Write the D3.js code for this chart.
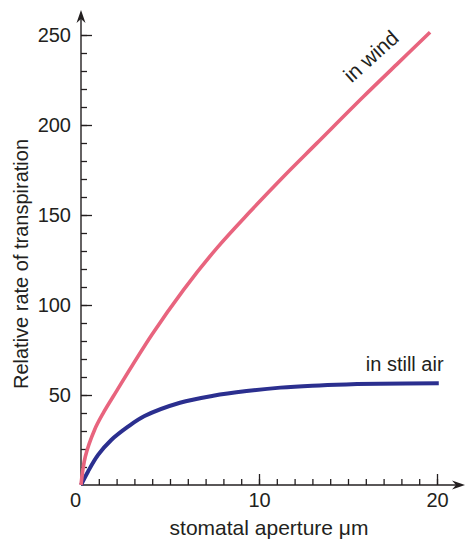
<!DOCTYPE html>
<html>
<head>
<meta charset="utf-8">
<script src="https://cdn.jsdelivr.net/npm/d3@7"></script>
<style>
  body { margin: 0; background: #fff; }
  svg { display: block; font-family: "Liberation Sans", Arial, Helvetica, sans-serif; }
  .tick text { font-size: 20px; fill: #231f20; }
  .tick line { stroke: #231f20; stroke-width: 1.3px; }
  .label { font-size: 20px; fill: #231f20; }
</style>
</head>
<body>
<svg width="466" height="540"></svg>
<script>
// stomatal aperture (um) vs relative rate of transpiration
const windAperture = [0, 0.24, 0.76, 1.24, 1.80, 3.97, 5.75, 7.62, 9.49, 11.37, 13.24, 15.86, 17.74, 19.61];
const windRate     = [0, 15.7, 30.6, 39.8, 49, 83.3, 108.3, 131.5, 151.8, 171.3, 189.8, 215.7, 233.7, 251.5];
const stillAperture = [0, 0.39, 0.96, 1.70, 2.64, 3.57, 5.56, 7.43, 9.3, 11.2, 13.0, 14.9, 16.8, 20.1];
const stillRate     = [0, 7.4, 16.7, 25, 32.4, 38.3, 45.7, 49.6, 52.2, 54.1, 55.2, 55.9, 56.3, 56.5];

const xMajor = [0, 10, 20];
const xMinor = d3.range(1, 21);
const yMajor = [50, 100, 150, 200, 250];
const yMinor = d3.range(10, 251, 10);

const seriesLabels = ['in wind', 'in still air'];
const xTitle = 'stomatal aperture μm';
const yTitle = 'Relative rate of transpiration';

const ink = '#231f20';
const svg = d3.select('svg');

const x = d3.scaleLinear().domain([0, 20]).range([81, 437]);
const y = d3.scaleLinear().domain([0, 250]).range([485, 35]);

// minor ticks first, majors on top
svg.append('g')
    .attr('transform', 'translate(0,' + y(0) + ')')
    .call(d3.axisBottom(x).tickValues(xMinor).tickSizeInner(-6).tickSizeOuter(0).tickFormat(''))
    .call(g => g.select('.domain').remove());
const xAxis = svg.append('g')
    .attr('transform', 'translate(0,' + y(0) + ')')
    .call(d3.axisBottom(x).tickValues(xMajor).tickSizeInner(-11).tickSizeOuter(0).tickPadding(8))
    .call(g => g.select('.domain').remove());
// the shared origin label sits left of the corner
xAxis.selectAll('.tick')
    .filter(d => d === 0)
    .call(t => t.select('line').remove())
    .select('text').attr('dx', -6);

svg.append('g')
    .attr('transform', 'translate(' + x(0) + ',0)')
    .call(d3.axisLeft(y).tickValues(yMinor).tickSizeInner(-6).tickSizeOuter(0).tickFormat(''))
    .call(g => g.select('.domain').remove());
svg.append('g')
    .attr('transform', 'translate(' + x(0) + ',0)')
    .call(d3.axisLeft(y).tickValues(yMajor).tickSizeInner(-11).tickSizeOuter(0).tickPadding(10))
    .call(g => g.select('.domain').remove());

// axis lines with arrow heads
const xEnd = x.range()[1] + 28;
const yEnd = y.range()[1] - 25;
svg.append('path')
    .attr('d', 'M' + x(0) + ',' + y(0) + 'H' + (xEnd - 4))
    .attr('stroke', ink).attr('stroke-width', 1.4).attr('fill', 'none');
svg.append('path')
    .attr('d', 'M' + x(0) + ',' + y(0) + 'V' + (yEnd + 4))
    .attr('stroke', ink).attr('stroke-width', 1.4).attr('fill', 'none');
svg.append('path')
    .attr('d', `M${xEnd},${y(0)} L${xEnd - 13},${y(0) - 4.5} L${xEnd - 9},${y(0)} L${xEnd - 13},${y(0) + 4.5} Z`)
    .attr('fill', ink);
svg.append('path')
    .attr('d', `M${x(0)},${yEnd} L${x(0) - 4.5},${yEnd + 13} L${x(0)},${yEnd + 9} L${x(0) + 4.5},${yEnd + 13} Z`)
    .attr('fill', ink);

const line = d3.line()
    .x(d => x(d[0]))
    .y(d => y(d[1]))
    .curve(d3.curveCatmullRom.alpha(0.5));

svg.append('path')
    .datum(d3.zip(stillAperture, stillRate))
    .attr('fill', 'none')
    .attr('stroke', '#2b2f8f')
    .attr('stroke-width', 4)
    .attr('d', line);
svg.append('path')
    .datum(d3.zip(windAperture, windRate))
    .attr('fill', 'none')
    .attr('stroke', '#e8647e')
    .attr('stroke-width', 3.6)
    .attr('d', line);

// series labels
svg.append('text')
    .attr('class', 'label')
    .style('font-size', '21px')
    .attr('transform', 'translate(' + x(15.2) + ',' + y(223) + ') rotate(-42)')
    .text(seriesLabels[0]);
svg.append('text')
    .attr('class', 'label')
    .attr('x', x(16.0))
    .attr('y', y(63.3))
    .text(seriesLabels[1]);

// axis titles
svg.append('text')
    .attr('class', 'label')
    .attr('text-anchor', 'middle')
    .style('font-size', '21px')
    .attr('x', 269)
    .attr('y', 535)
    .text(xTitle);
svg.append('text')
    .attr('class', 'label')
    .attr('text-anchor', 'middle')
    .attr('transform', 'translate(28,264) rotate(-90)')
    .text(yTitle);
</script>
</body>
</html>
